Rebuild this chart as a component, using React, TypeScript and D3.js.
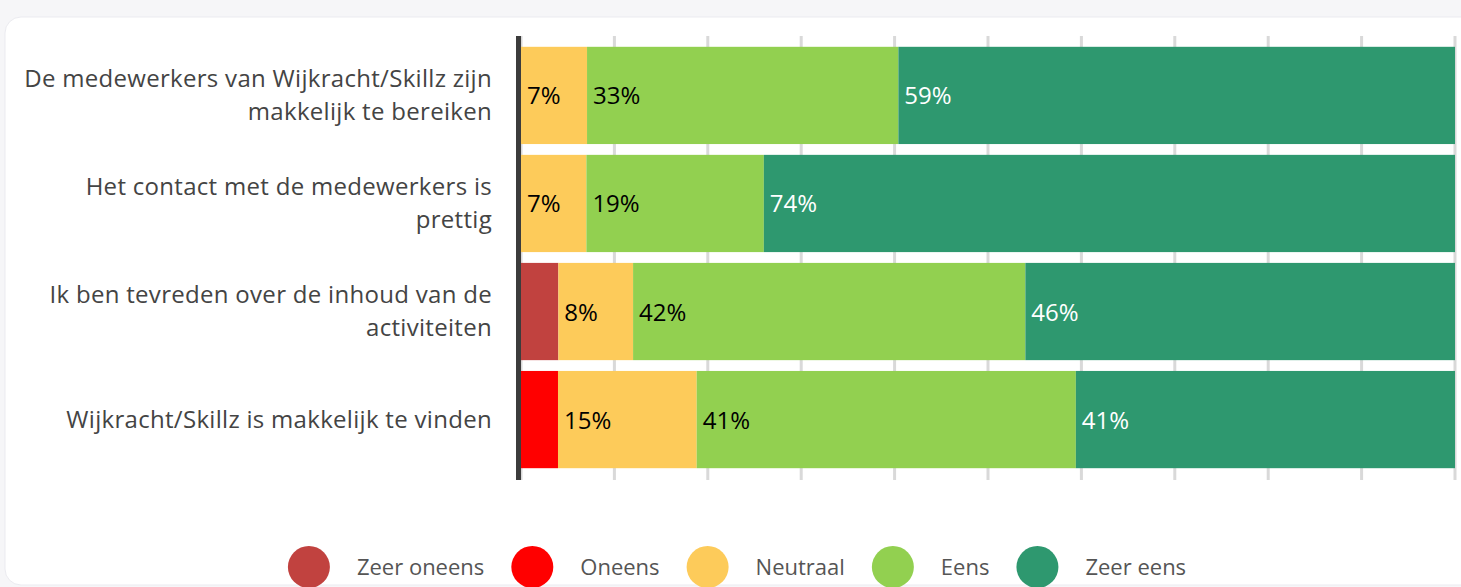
import { useRef, useEffect } from 'react';
import { select, scaleLinear, scaleBand, range, sum } from 'd3';

// line breaks as they appear in the chart
const questions = [
  'De medewerkers van Wijkracht/Skillz zijn\nmakkelijk te bereiken',
  'Het contact met de medewerkers is\nprettig',
  'Ik ben tevreden over de inhoud van de\nactiviteiten',
  'Wijkracht/Skillz is makkelijk te vinden',
];

const answers = ['Zeer oneens', 'Oneens', 'Neutraal', 'Eens', 'Zeer eens'];
const answerColors = ['#c1423f', '#ff0000', '#fdcb5a', '#92d050', '#2e986f'];
const labelColors = ['#000', '#000', '#000', '#000', '#fff'];

// rounded percentages per answer, one value per question
const zeerOneens = [0, 0, 4, 0];
const oneens = [0, 0, 0, 4];
const neutraal = [7, 7, 8, 15];
const eens = [33, 19, 42, 41];
const zeerEens = [59, 74, 46, 41];

const series = [zeerOneens, oneens, neutraal, eens, zeerEens];
const ticks = range(0, 101, 10);

const W = 1461;
const H = 587;
const FONT = '"Open Sans", sans-serif';

const App = () => {
  const ref = useRef<SVGSVGElement>(null);

  useEffect(() => {
    if (!ref.current) return;
    const svg = select(ref.current);
    svg.selectAll('*').remove();

    const x = scaleLinear().domain([0, 100]).range([521, 1455]);
    const y = scaleBand<string>().domain(questions).range([36, 479]).padding(0.1);

    // page + card
    svg.append('rect').attr('width', W).attr('height', H).attr('fill', '#f6f6f8');
    svg
      .append('rect')
      .attr('x', 5)
      .attr('y', 17)
      .attr('width', W + 20)
      .attr('height', 568)
      .attr('rx', 16)
      .attr('fill', '#fff')
      .attr('stroke', '#ebebf0');

    // grid
    svg
      .append('g')
      .selectAll('line')
      .data(ticks)
      .join('line')
      .attr('x1', (d) => x(d))
      .attr('x2', (d) => x(d))
      .attr('y1', 36)
      .attr('y2', 480)
      .attr('stroke', '#d9d9d9')
      .attr('stroke-width', 3);

    // stacked bars, each row stretched to 100%
    const rows = svg
      .append('g')
      .selectAll('g')
      .data(questions)
      .join('g')
      .attr('transform', (q) => `translate(0,${y(q)})`);

    rows.each(function (_q, qi) {
      const g = select(this);
      const total = sum(series, (s) => s[qi]);
      let acc = 0;
      series.forEach((vals, si) => {
        const v = vals[qi];
        const x0 = x((acc / total) * 100);
        acc += v;
        if (v <= 0) return;
        const x1 = x((acc / total) * 100);
        g.append('rect')
          .attr('x', x0)
          .attr('y', 0)
          .attr('width', x1 - x0)
          .attr('height', y.bandwidth())
          .attr('fill', answerColors[si]);
        if (v >= 5) {
          g.append('text')
            .attr('x', x0 + 6)
            .attr('y', y.bandwidth() / 2 + 9)
            .attr('font-family', FONT)
            .attr('font-size', 24)
            .attr('fill', labelColors[si])
            .text(`${v}%`);
        }
      });
    });

    // axis line
    svg
      .append('line')
      .attr('x1', 518.5)
      .attr('x2', 518.5)
      .attr('y1', 36)
      .attr('y2', 480)
      .attr('stroke', '#3c3c3c')
      .attr('stroke-width', 5);

    // category labels
    questions.forEach((q) => {
      const lines = q.split('\n');
      const t = svg
        .append('text')
        .attr('font-family', FONT)
        .attr('font-size', 24)
        .attr('letter-spacing', 0.3)
        .attr('fill', '#444')
        .attr('text-anchor', 'end');
      const lh = 33;
      const cy = (y(q) as number) + y.bandwidth() / 2;
      lines.forEach((l, i) => {
        t.append('tspan')
          .attr('x', 492)
          .attr('y', cy + 8 + (i - (lines.length - 1) / 2) * lh)
          .text(l);
      });
    });

    // legend
    const legend = svg.append('g');
    let cx = 0;
    const gap = 27;
    answers.forEach((a, i) => {
      const item = legend.append('g').attr('transform', `translate(${cx},0)`);
      item.append('circle').attr('cx', 21).attr('cy', 0).attr('r', 21).attr('fill', answerColors[i]);
      const txt = item
        .append('text')
        .attr('x', 69)
        .attr('y', 8)
        .attr('font-family', FONT)
        .attr('font-size', 22)
        .attr('fill', '#555')
        .text(a);
      cx += 69 + (txt.node() as SVGTextElement).getComputedTextLength() + gap;
    });
    const total = cx - gap;
    legend.attr('transform', `translate(${737 - total / 2},567)`);
  }, []);

  return (
    <svg
      ref={ref}
      width={W}
      height={H}
      style={{ position: 'absolute', left: 0, top: 0, display: 'block' }}
    />
  );
};

export default App;
